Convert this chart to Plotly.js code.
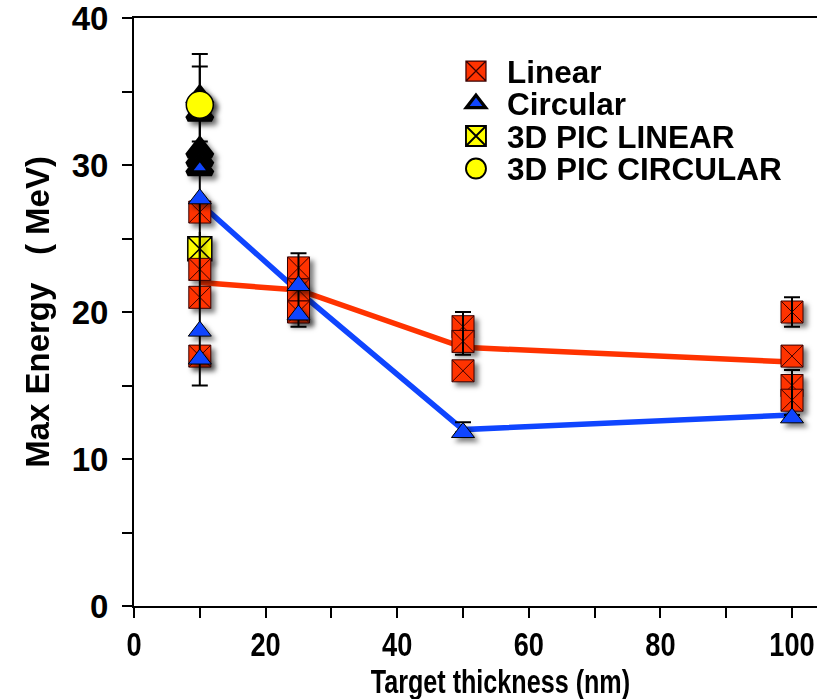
<!DOCTYPE html>
<html>
<head>
<meta charset="utf-8">
<script src="https://cdn.plot.ly/plotly-3.0.1.min.js"></script>
<style>
  html, body { margin: 0; padding: 0; background: #ffffff; overflow: hidden; }
  #chart { width: 817px; height: 699px; }
  /* soft drop shadow under the data markers, as in the reference */
  #chart .cartesianlayer .scatterlayer g.points {
    filter: drop-shadow(4px 4px 2.5px rgba(0, 0, 0, 0.5));
  }
</style>
</head>
<body>
<div id="chart"></div>
<script>
// ---- data ----
const thickness = [10, 25, 50, 100];
const linearTrend = [22.0, 21.5, 17.6, 16.6];
const circularTrend = [27.4, 21.4, 12.0, 13.0];

const linearX = [10, 10, 10, 10, 25, 25, 25, 50, 50, 50, 100, 100, 100, 100];
const linearY = [26.8, 22.9, 21.0, 17.0, 23.0, 21.5, 20.0, 19.0, 18.0, 16.0, 20.0, 17.0, 15.0, 14.0];

const circularX = [10, 10, 10, 10, 10, 10, 10, 10, 25, 25, 50, 100];
const circularY = [34.5, 33.5, 31.0, 30.4, 29.8, 27.7, 18.7, 16.8, 21.8, 19.8, 11.8, 12.8];

const picLinearX = [10];
const picLinearY = [24.3];
const picCircularX = [10];
const picCircularY = [34.1];

const errX = [10, 10, 25, 50, 50, 100, 100];
const errY = [26.25, 34.0, 21.5, 18.5, 11.8, 20.0, 14.5];
const errPlus = [11.3, 2.7, 2.5, 1.5, 0.7, 1.0, 1.55];
const errMinus = [11.25, 2.4, 2.5, 1.4, 0.0, 1.0, 1.5];

const xTickLabels = ['0', '20', '40', '60', '80', '100'];
const yTickLabels = ['0', '10', '20', '30', '40'];

// ---- styles ----
const RED = '#ff3300';
const BLUE = '#0f45ff';
const YELLOW = '#ffff00';
const SANS = '"Liberation Sans", Arial, Helvetica, sans-serif';

const traces = [
  {
    x: thickness, y: linearTrend, mode: 'lines', showlegend: false, hoverinfo: 'skip',
    line: { color: RED, width: 5.5 }
  },
  {
    x: thickness, y: circularTrend, mode: 'lines', showlegend: false, hoverinfo: 'skip',
    line: { color: BLUE, width: 5.5 }
  },
  {
    name: '3D PIC LINEAR', legendrank: 3,
    x: picLinearX, y: picLinearY, mode: 'markers',
    marker: { symbol: 'square-x', size: 24, opacity: 1, color: YELLOW, line: { color: '#000000', width: 1.5 } }
  },
  {
    x: picLinearX, y: picLinearY, mode: 'markers', showlegend: false, hoverinfo: 'skip',
    marker: { symbol: 'line-ns-open', size: 24, opacity: 1, color: '#000000', line: { color: '#000000', width: 2 } }
  },
  {
    name: 'Linear', legendrank: 1,
    x: linearX, y: linearY, mode: 'markers',
    marker: { symbol: 'square-x', size: 22, opacity: 1, color: RED, line: { color: '#3a0000', width: 1 } }
  },
  {
    x: errX, y: errY, mode: 'markers', showlegend: false, hoverinfo: 'skip',
    marker: { size: 1, opacity: 0 },
    error_y: {
      type: 'data', symmetric: false, array: errPlus, arrayminus: errMinus,
      color: '#000000', thickness: 2, width: 8
    }
  },
  {
    name: 'Circular', legendrank: 2,
    x: circularX, y: circularY, mode: 'markers',
    marker: {
      symbol: 'triangle-up', opacity: 1,
      size: circularY.map((v, i) => (i < 5 ? 21 : 20)), color: BLUE,
      line: { color: '#000000', width: circularY.map((v, i) => (i < 5 ? 6 : 1)) }
    }
  },
  {
    name: '3D PIC CIRCULAR', legendrank: 4,
    x: picCircularX, y: picCircularY, mode: 'markers',
    marker: { symbol: 'circle', size: 27, opacity: 1, color: YELLOW, line: { color: '#000000', width: 1.5 } }
  }
];

const layout = {
  width: 817, height: 699,
  margin: { l: 134, r: 0, t: 18, b: 93 },
  paper_bgcolor: '#ffffff', plot_bgcolor: '#ffffff',
  showlegend: true,
  legend: {
    x: 0.4714, y: 0.946, xanchor: 'left', yanchor: 'top',
    bgcolor: 'rgba(0,0,0,0)', borderwidth: 0,
    font: { family: SANS, size: 22.7, color: '#000000', weight: 'bold' },
    traceorder: 'normal'
  },
  xaxis: {
    range: [0, 103.8], showgrid: false, zeroline: false,
    showline: true, linecolor: '#000000', linewidth: 2, mirror: true,
    ticks: 'outside', ticklen: 10, tickwidth: 2, tickcolor: '#000000',
    tickmode: 'array', tickvals: xTickLabels.map(Number), ticktext: xTickLabels,
    minor: { dtick: 10, tick0: 0, ticks: 'outside', ticklen: 10, tickwidth: 2, tickcolor: '#000000', showgrid: false },
    tickfont: { family: SANS, size: 34, color: '#000000', weight: 'bold' },
    ticklabelstandoff: -3,
    ticklabeloverflow: 'allow'
  },
  yaxis: {
    range: [0, 40], showgrid: false, zeroline: false,
    showline: true, linecolor: '#000000', linewidth: 2,
    ticks: 'outside', ticklen: 10, tickwidth: 2, tickcolor: '#000000',
    tickmode: 'array', tickvals: yTickLabels.map(Number), ticktext: yTickLabels,
    minor: { dtick: 5, tick0: 0, ticks: 'outside', ticklen: 10, tickwidth: 2, tickcolor: '#000000', showgrid: false },
    tickfont: { family: SANS, size: 33, color: '#000000', weight: 'bold' },
    ticklabelstandoff: 7,
    ticklabeloverflow: 'allow',
    title: {
      text: 'Max Energy\u00a0\u00a0\u00a0( MeV)',
      font: { family: SANS, size: 33, color: '#000000', weight: 'bold' },
      standoff: 12
    }
  },
  annotations: [
    {
      text: 'Target thickness (nm)', showarrow: false,
      xref: 'paper', yref: 'paper', x: 0.537, y: -0.128,
      xanchor: 'center', yanchor: 'middle',
      font: { family: SANS, size: 34, color: '#000000', weight: 'bold' }
    }
  ]
};

// horizontally condense a text element about its anchor (the reference uses a narrow face)
function condense(el, s) {
  if (!el) return;
  const x = parseFloat(el.getAttribute('x')) || 0;
  const prev = el.getAttribute('transform') || '';
  el.setAttribute('transform', prev + ' translate(' + x + ',0) scale(' + s + ',1) translate(' + (-x) + ',0)');
}

Plotly.newPlot('chart', traces, layout, { staticPlot: true, displayModeBar: false }).then(function (gd) {
  gd.querySelectorAll('.xaxislayer-above .xtick text').forEach(function (t) { condense(t, 0.8); });
  gd.querySelectorAll('.annotation-text').forEach(function (t) { condense(t, 0.74); });

  // larger legend text and symbols with the reference's tight row spacing
  gd.querySelectorAll('.legend .scrollbox').forEach(function (s) { s.removeAttribute('clip-path'); });
  gd.querySelectorAll('.legend .traces').forEach(function (g) {
    const txt = g.querySelector('.legendtext');
    if (txt) {
      txt.style.fontSize = '31.5px';
      txt.setAttribute('x', '51');
      txt.setAttribute('y', '11.5');
    }
    const name = txt ? txt.textContent : '';
    const sc = name === 'Circular' ? 1.05 : 1.25;
    g.querySelectorAll('.legendpoints path').forEach(function (p) {
      const prev = p.getAttribute('transform') || '';
      p.setAttribute('transform', prev + ' scale(' + sc + ')');
    });
  });
});
</script>
</body>
</html>
